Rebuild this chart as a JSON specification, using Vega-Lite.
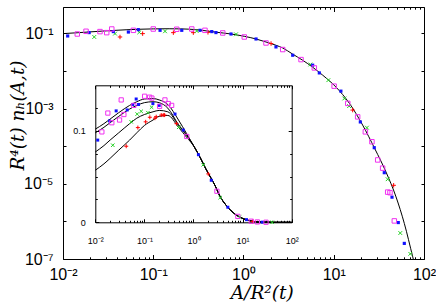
{
"$schema": "https://vega.github.io/schema/vega-lite/v6.json",
"width": 361, "height": 252,
"autosize": {"type": "none"},
"padding": {"left": 63, "top": 7, "right": 12, "bottom": 47},
"background": "white",
"config": {
  "view": {"stroke": null},
  "axis": {"grid": false, "domainColor": "#000", "tickColor": "#000", "labelColor": "#000", "titleColor": "#000", "labelFont": "Liberation Sans", "domainWidth": 1, "tickWidth": 1, "labelFlush": false, "labelOverlap": false, "labelBound": false}
},
"datasets": {
  "mc": [
    {"x":0.01,"y":0.098},{"x":0.015,"y":0.104},{"x":0.02,"y":0.109},{"x":0.03,"y":0.116},{"x":0.05,"y":0.124},{"x":0.07,"y":0.128},{"x":0.1,"y":0.131},{"x":0.15,"y":0.132},{"x":0.2,"y":0.131},{"x":0.3,"y":0.125},{"x":0.495,"y":0.107},{"x":0.727,"y":0.0958},{"x":1.02,"y":0.0832},{"x":1.377,"y":0.0706},{"x":1.776,"y":0.0587},{"x":2.29,"y":0.0481},{"x":2.72,"y":0.0407},{"x":3.5,"y":0.028},{"x":4.53,"y":0.0192},{"x":7.55,"y":0.00769},{"x":10.6,"y":0.0037},{"x":14.86,"y":0.00139},{"x":20.9,"y":0.000363},{"x":28.6,"y":0.000084},{"x":37.9,"y":0.0000206},{"x":49,"y":0.00000447},{"x":60.5,"y":0.000000885},{"x":75,"y":0.000000114},{"x":81.5,"y":0.000000051}
  ],
  "mp": [
    {"x":0.01127,"y":0.0848,"s":"b"},{"x":0.0195,"y":0.1044,"s":"b"},{"x":0.0361,"y":0.111,"s":"b"},{"x":0.053,"y":0.108,"s":"b"},{"x":0.0683,"y":0.125,"s":"b"},{"x":0.119,"y":0.12,"s":"b"},{"x":0.207,"y":0.12,"s":"b"},{"x":0.33,"y":0.12,"s":"b"},{"x":0.445,"y":0.111,"s":"b"},{"x":0.495,"y":0.1044,"s":"b"},{"x":0.727,"y":0.0958,"s":"b"},{"x":1.377,"y":0.0706,"s":"b"},{"x":2.29,"y":0.0434,"s":"b"},{"x":3.51,"y":0.0261,"s":"b"},{"x":5.84,"y":0.0142,"s":"b"},{"x":6.92,"y":0.00885,"s":"b"},{"x":12.0,"y":0.0029,"s":"b"},{"x":19.7,"y":0.00044,"s":"b"},{"x":28.1,"y":0.000091,"s":"b"},{"x":36.3,"y":0.0000197,"s":"b"},{"x":44.2,"y":0.0000044,"s":"b"},{"x":51.9,"y":0.00000093,"s":"b"},{"x":60.5,"y":0.00000026,"s":"b"},
    {"x":0.0144,"y":0.0958,"s":"m"},{"x":0.018,"y":0.113,"s":"m"},{"x":0.0257,"y":0.111,"s":"m"},{"x":0.0305,"y":0.104,"s":"m"},{"x":0.0347,"y":0.13,"s":"m"},{"x":0.0602,"y":0.12,"s":"m"},{"x":0.1,"y":0.13,"s":"m"},{"x":0.182,"y":0.128,"s":"m"},{"x":0.267,"y":0.13,"s":"m"},{"x":0.374,"y":0.12,"s":"m"},{"x":0.589,"y":0.102,"s":"m"},{"x":1.02,"y":0.0798,"s":"m"},{"x":1.776,"y":0.0553,"s":"m"},{"x":2.72,"y":0.037,"s":"m"},{"x":4.34,"y":0.02,"s":"m"},{"x":6.09,"y":0.012,"s":"m"},{"x":10.1,"y":0.00393,"s":"m"},{"x":14.3,"y":0.00137,"s":"m"},{"x":18.4,"y":0.0006,"s":"m"},{"x":22.4,"y":0.00024,"s":"m"},{"x":26.5,"y":0.000131,"s":"m"},{"x":30.7,"y":0.000043,"s":"m"},{"x":34.8,"y":0.000026,"s":"m"},{"x":39.6,"y":0.000006,"s":"m"},{"x":42.0,"y":0.0000058,"s":"m"},{"x":46.9,"y":0.00000103,"s":"m"},
    {"x":0.0222,"y":0.0798,"s":"g"},{"x":0.0377,"y":0.098,"s":"g"},{"x":0.07,"y":0.106,"s":"g"},{"x":0.135,"y":0.113,"s":"g"},{"x":0.303,"y":0.115,"s":"g"},{"x":0.826,"y":0.094,"s":"g"},{"x":5.5,"y":0.0148,"s":"g"},{"x":8.71,"y":0.00567,"s":"g"},{"x":13.1,"y":0.00185,"s":"g"},{"x":14.8,"y":0.00116,"s":"g"},{"x":23.3,"y":0.00031,"s":"g"},{"x":39.6,"y":0.0000132,"s":"g"},{"x":54.6,"y":0.00000049,"s":"g"},{"x":70.5,"y":0.000000137,"s":"g"},
    {"x":0.0428,"y":0.0798,"s":"r"},{"x":0.0763,"y":0.098,"s":"r"},{"x":0.167,"y":0.104,"s":"r"},{"x":0.278,"y":0.104,"s":"r"},{"x":0.404,"y":0.106,"s":"r"},{"x":2.02,"y":0.0533,"s":"r"},{"x":16.2,"y":0.00091,"s":"r"},{"x":46.1,"y":0.0000091,"s":"r"}
  ],
  "ic": [
    {"x":0.01,"y":0.102,"c":1},{"x":0.015,"y":0.108,"c":1},{"x":0.02,"y":0.113,"c":1},{"x":0.03,"y":0.12,"c":1},{"x":0.05,"y":0.128,"c":1},{"x":0.07,"y":0.132,"c":1},{"x":0.1,"y":0.135,"c":1},{"x":0.15,"y":0.1355,"c":1},{"x":0.2,"y":0.134,"c":1},{"x":0.3,"y":0.129,"c":1},{"x":0.495,"y":0.112,"c":1},{"x":0.727,"y":0.097,"c":1},
    {"x":1.02,"y":0.0832,"c":1},{"x":1.377,"y":0.0706,"c":1},{"x":1.776,"y":0.0587,"c":1},{"x":2.29,"y":0.0481,"c":1},{"x":2.72,"y":0.0407,"c":1},{"x":3.5,"y":0.028,"c":1},{"x":4.53,"y":0.0192,"c":1},{"x":7.55,"y":0.00769,"c":1},{"x":10.6,"y":0.0037,"c":1},{"x":14.86,"y":0.00139,"c":1},{"x":20.9,"y":0.000363,"c":1},{"x":49,"y":0.0000045,"c":1},{"x":100,"y":0,"c":1},
    {"x":0.01,"y":0.098,"c":2},{"x":0.015,"y":0.104,"c":2},{"x":0.02,"y":0.109,"c":2},{"x":0.03,"y":0.116,"c":2},{"x":0.05,"y":0.124,"c":2},{"x":0.07,"y":0.128,"c":2},{"x":0.1,"y":0.131,"c":2},{"x":0.15,"y":0.132,"c":2},{"x":0.2,"y":0.131,"c":2},{"x":0.3,"y":0.125,"c":2},{"x":0.495,"y":0.107,"c":2},{"x":0.727,"y":0.0958,"c":2},
    {"x":1.02,"y":0.0832,"c":2},{"x":1.377,"y":0.0706,"c":2},{"x":1.776,"y":0.0587,"c":2},{"x":2.29,"y":0.0481,"c":2},{"x":2.72,"y":0.0407,"c":2},{"x":3.5,"y":0.028,"c":2},{"x":4.53,"y":0.0192,"c":2},{"x":7.55,"y":0.00769,"c":2},{"x":10.6,"y":0.0037,"c":2},{"x":14.86,"y":0.00139,"c":2},{"x":20.9,"y":0.000363,"c":2},{"x":49,"y":0.0000045,"c":2},{"x":100,"y":0,"c":2},
    {"x":0.01,"y":0.077,"c":3},{"x":0.015,"y":0.084,"c":3},{"x":0.02,"y":0.09,"c":3},{"x":0.03,"y":0.098,"c":3},{"x":0.05,"y":0.108,"c":3},{"x":0.07,"y":0.114,"c":3},{"x":0.1,"y":0.118,"c":3},{"x":0.15,"y":0.121,"c":3},{"x":0.2,"y":0.1225,"c":3},{"x":0.3,"y":0.121,"c":3},{"x":0.495,"y":0.106,"c":3},{"x":0.727,"y":0.095,"c":3},
    {"x":1.02,"y":0.0832,"c":3},{"x":1.377,"y":0.0706,"c":3},{"x":1.776,"y":0.0587,"c":3},{"x":2.29,"y":0.0481,"c":3},{"x":2.72,"y":0.0407,"c":3},{"x":3.5,"y":0.028,"c":3},{"x":4.53,"y":0.0192,"c":3},{"x":7.55,"y":0.00769,"c":3},{"x":10.6,"y":0.0037,"c":3},{"x":14.86,"y":0.00139,"c":3},{"x":20.9,"y":0.000363,"c":3},{"x":49,"y":0.0000045,"c":3},{"x":100,"y":0,"c":3},
    {"x":0.01,"y":0.057,"c":4},{"x":0.015,"y":0.064,"c":4},{"x":0.02,"y":0.07,"c":4},{"x":0.03,"y":0.079,"c":4},{"x":0.05,"y":0.09,"c":4},{"x":0.07,"y":0.098,"c":4},{"x":0.1,"y":0.106,"c":4},{"x":0.15,"y":0.112,"c":4},{"x":0.2,"y":0.116,"c":4},{"x":0.3,"y":0.117,"c":4},{"x":0.495,"y":0.104,"c":4},{"x":0.727,"y":0.093,"c":4},
    {"x":1.02,"y":0.0832,"c":4},{"x":1.377,"y":0.0706,"c":4},{"x":1.776,"y":0.0587,"c":4},{"x":2.29,"y":0.0481,"c":4},{"x":2.72,"y":0.0407,"c":4},{"x":3.5,"y":0.028,"c":4},{"x":4.53,"y":0.0192,"c":4},{"x":7.55,"y":0.00769,"c":4},{"x":10.6,"y":0.0037,"c":4},{"x":14.86,"y":0.00139,"c":4},{"x":20.9,"y":0.000363,"c":4},{"x":49,"y":0.0000045,"c":4},{"x":100,"y":0,"c":4}
  ],
  "ip": [
    {"x":0.0136,"y":0.099,"s":"m"},{"x":0.018,"y":0.1196,"s":"m"},{"x":0.0217,"y":0.109,"s":"m"},{"x":0.0312,"y":0.112,"s":"m"},{"x":0.0337,"y":0.134,"s":"m"},{"x":0.0382,"y":0.118,"s":"m"},{"x":0.061,"y":0.128,"s":"m"},{"x":0.101,"y":0.138,"s":"m"},{"x":0.128,"y":0.137,"s":"m"},{"x":0.142,"y":0.136,"s":"m"},{"x":0.204,"y":0.127,"s":"m"},{"x":0.262,"y":0.134,"s":"m"},{"x":0.306,"y":0.13,"s":"m"},{"x":0.359,"y":0.128,"s":"m"},{"x":0.73,"y":0.094,"s":"m"},{"x":3.0,"y":0.034,"s":"m"},{"x":8,"y":0.0065,"s":"m"},{"x":15,"y":0.0012,"s":"m"},{"x":20,"y":0.0004,"s":"m"},{"x":30,"y":0.00007,"s":"m"},
    {"x":0.0112,"y":0.09,"s":"b"},{"x":0.0195,"y":0.111,"s":"b"},{"x":0.0266,"y":0.122,"s":"b"},{"x":0.0446,"y":0.123,"s":"b"},{"x":0.058,"y":0.129,"s":"b"},{"x":0.068,"y":0.135,"s":"b"},{"x":0.076,"y":0.129,"s":"b"},{"x":0.149,"y":0.13,"s":"b"},{"x":0.2,"y":0.128,"s":"b"},{"x":0.42,"y":0.1185,"s":"b"},{"x":0.62,"y":0.101,"s":"b"},{"x":1.26,"y":0.074,"s":"b"},{"x":2.3,"y":0.046,"s":"b"},{"x":5,"y":0.0165,"s":"b"},{"x":12,"y":0.0029,"s":"b"},{"x":25,"y":0.00014,"s":"b"},
    {"x":0.0227,"y":0.0844,"s":"g"},{"x":0.0538,"y":0.11,"s":"g"},{"x":0.0713,"y":0.1185,"s":"g"},{"x":0.086,"y":0.1215,"s":"g"},{"x":0.118,"y":0.12,"s":"g"},{"x":0.14,"y":0.126,"s":"g"},{"x":0.5,"y":0.104,"s":"g"},{"x":1.58,"y":0.063,"s":"g"},{"x":3.5,"y":0.027,"s":"g"},{"x":8.7,"y":0.0057,"s":"g"},{"x":40,"y":0.00001,"s":"g"},
    {"x":0.0426,"y":0.0833,"s":"r"},{"x":0.0736,"y":0.1037,"s":"r"},{"x":0.106,"y":0.11,"s":"r"},{"x":0.129,"y":0.115,"s":"r"},{"x":0.164,"y":0.114,"s":"r"},{"x":0.174,"y":0.1156,"s":"r"},{"x":0.22,"y":0.1174,"s":"r"},{"x":0.242,"y":0.1174,"s":"r"},{"x":0.258,"y":0.1174,"s":"r"},{"x":0.45,"y":0.108,"s":"r"},{"x":2.0,"y":0.053,"s":"r"},{"x":16,"y":0.0009,"s":"r"}
  ]
},
"resolve": {"scale": {"x": "independent", "y": "independent"}, "axis": {"x": "independent", "y": "independent"}},
"layer": [
  {
    "data": {"name": "mc"},
    "mark": {"type": "line", "color": "#000", "strokeWidth": 1, "interpolate": "monotone", "clip": true},
    "encoding": {
      "x": {"field": "x", "type": "quantitative", "scale": {"type": "log", "domain": [0.01, 100], "nice": false},
        "axis": {"orient": "bottom", "values": [0.01, 0.1, 1, 10, 100], "tickSize": -4.5, "labelPadding": 12, "labelFontSize": 16,
          "labelExpr": "round(log(datum.value)/LN10)==-2?'10⁻²':round(log(datum.value)/LN10)==-1?'10⁻¹':round(log(datum.value)/LN10)==0?'10⁰':round(log(datum.value)/LN10)==1?'10¹':'10²'",
          "title": "A/R²(t)", "titleFont": "DejaVu Serif", "titleFontSize": 18.5, "titleFontStyle": "italic", "titleFontWeight": "normal", "titleX": 198.7, "titleY": 39.5, "titleBaseline": "alphabetic", "titleAlign": "center"}},
      "y": {"field": "y", "type": "quantitative", "scale": {"type": "log", "domain": [1e-7, 0.5], "nice": false},
        "axis": {"orient": "left", "values": [1e-7, 1e-6, 1e-5, 1e-4, 1e-3, 1e-2, 0.1], "tickSize": -3, "labelPadding": 13, "labelFontSize": 16,
          "labelExpr": "round(log(datum.value)/LN10)==-1?'10⁻¹':round(log(datum.value)/LN10)==-3?'10⁻³':round(log(datum.value)/LN10)==-5?'10⁻⁵':round(log(datum.value)/LN10)==-7?'10⁻⁷':''",
          "title": "R⁴(t) nₕ(A,t)", "titleFont": "DejaVu Serif", "titleFontSize": 18.5, "titleFontStyle": "italic", "titleFontWeight": "normal", "titleAngle": 270, "titleX": -40, "titleY": 108, "titleBaseline": "alphabetic", "titleAlign": "center"}}
    }
  },
  {
    "data": {"name": "mp"},
    "transform": [{"filter": "datum.s=='r'"}],
    "mark": {"type": "point", "shape": "M-1,0L1,0M0,-1L0,1", "filled": false, "color": "#ff0000", "strokeWidth": 1, "size": 20, "opacity": 1},
    "encoding": {
      "x": {"field": "x", "type": "quantitative", "scale": {"type": "log", "domain": [0.01, 100], "nice": false},
        "axis": {"orient": "top", "values": [0.01, 0.1, 1, 10, 100], "tickSize": -4.5, "labels": false, "title": null}},
      "y": {"field": "y", "type": "quantitative", "scale": {"type": "log", "domain": [1e-7, 0.5], "nice": false},
        "axis": {"orient": "right", "values": [1e-7, 1e-6, 1e-5, 1e-4, 1e-3, 1e-2, 0.1], "tickSize": -3, "labels": false, "title": null}}
    }
  },
  {
    "data": {"name": "mp"},
    "transform": [{"filter": "datum.s=='g'"}],
    "mark": {"type": "point", "shape": "M-1,-1L1,1M-1,1L1,-1", "filled": false, "color": "#20d020", "strokeWidth": 1, "size": 14, "opacity": 1},
    "encoding": {
      "x": {"field": "x", "type": "quantitative", "scale": {"type": "log", "domain": [0.01, 100], "nice": false},
        "axis": {"orient": "bottom", "values": [0.02,0.03,0.04,0.05,0.06,0.07,0.08,0.09,0.2,0.3,0.4,0.5,0.6,0.7,0.8,0.9,2,3,4,5,6,7,8,9,20,30,40,50,60,70,80,90], "tickSize": -2.2, "labels": false, "domain": false, "title": null}},
      "y": {"field": "y", "type": "quantitative", "scale": {"type": "log", "domain": [1e-7, 0.5], "nice": false}, "axis": null}
    }
  },
  {
    "data": {"name": "mp"},
    "transform": [{"filter": "datum.s=='b'"}],
    "mark": {"type": "point", "shape": "square", "filled": true, "color": "#1010ff", "size": 10, "opacity": 1},
    "encoding": {
      "x": {"field": "x", "type": "quantitative", "scale": {"type": "log", "domain": [0.01, 100], "nice": false},
        "axis": {"orient": "top", "values": [0.02,0.03,0.04,0.05,0.06,0.07,0.08,0.09,0.2,0.3,0.4,0.5,0.6,0.7,0.8,0.9,2,3,4,5,6,7,8,9,20,30,40,50,60,70,80,90], "tickSize": -2.2, "labels": false, "domain": false, "title": null}},
      "y": {"field": "y", "type": "quantitative", "scale": {"type": "log", "domain": [1e-7, 0.5], "nice": false}, "axis": null}
    }
  },
  {
    "data": {"name": "mp"},
    "transform": [{"filter": "datum.s=='m'"}],
    "mark": {"type": "point", "shape": "square", "filled": false, "color": "#f030f0", "strokeWidth": 1, "size": 20, "opacity": 1},
    "encoding": {
      "x": {"field": "x", "type": "quantitative", "scale": {"type": "log", "domain": [0.01, 100], "nice": false}, "axis": null},
      "y": {"field": "y", "type": "quantitative", "scale": {"type": "log", "domain": [1e-7, 0.5], "nice": false}, "axis": null}
    }
  },
  {
    "data": {"name": "ic"},
    "mark": {"type": "line", "color": "#000", "strokeWidth": 1, "interpolate": "monotone", "clip": false},
    "encoding": {
      "detail": {"field": "c", "type": "nominal"},
      "x": {"field": "x", "type": "quantitative", "scale": {"type": "log", "domain": [0.01, 100], "range": [32.3, 228.7], "nice": false},
        "axis": {"orient": "bottom", "offset": -36.7, "values": [0.01, 0.1, 1, 10, 100], "tickSize": -3.5, "labelPadding": 18, "labelFontSize": 9,
          "labelExpr": "round(log(datum.value)/LN10)==-2?'10⁻²':round(log(datum.value)/LN10)==-1?'10⁻¹':round(log(datum.value)/LN10)==0?'10⁰':round(log(datum.value)/LN10)==1?'10¹':'10²'", "title": null}},
      "y": {"field": "y", "type": "quantitative", "scale": {"type": "linear", "domain": [0, 0.15], "range": [215.3, 78.3], "nice": false, "zero": false},
        "axis": {"orient": "left", "offset": -32.3, "values": [0, 0.1], "tickSize": -3.5, "labelPadding": 13.5, "labelFontSize": 9, "labelExpr": "datum.value==0?'0':'0.1'", "title": null}}
    }
  },
  {
    "data": {"name": "ip"},
    "transform": [{"filter": "datum.s=='r'"}],
    "mark": {"type": "point", "shape": "M-1,0L1,0M0,-1L0,1", "filled": false, "color": "#ff0000", "strokeWidth": 1, "size": 16, "opacity": 1},
    "encoding": {
      "x": {"field": "x", "type": "quantitative", "scale": {"type": "log", "domain": [0.01, 100], "range": [32.3, 228.7], "nice": false},
        "axis": {"orient": "top", "offset": -78.3, "values": [0.01, 0.1, 1, 10, 100], "tickSize": -3.5, "labels": false, "title": null}},
      "y": {"field": "y", "type": "quantitative", "scale": {"type": "linear", "domain": [0, 0.15], "range": [215.3, 78.3], "nice": false, "zero": false},
        "axis": {"orient": "right", "offset": -132.3, "values": [0, 0.1], "tickSize": -3.5, "labels": false, "title": null}}
    }
  },
  {
    "data": {"name": "ip"},
    "transform": [{"filter": "datum.s=='g'"}],
    "mark": {"type": "point", "shape": "M-1,-1L1,1M-1,1L1,-1", "filled": false, "color": "#20d020", "strokeWidth": 1, "size": 12, "opacity": 1},
    "encoding": {
      "x": {"field": "x", "type": "quantitative", "scale": {"type": "log", "domain": [0.01, 100], "range": [32.3, 228.7], "nice": false},
        "axis": {"orient": "bottom", "offset": -36.7, "values": [0.02,0.03,0.04,0.05,0.06,0.07,0.08,0.09,0.2,0.3,0.4,0.5,0.6,0.7,0.8,0.9,2,3,4,5,6,7,8,9,20,30,40,50,60,70,80,90], "tickSize": -2, "labels": false, "domain": false, "title": null}},
      "y": {"field": "y", "type": "quantitative", "scale": {"type": "linear", "domain": [0, 0.15], "range": [215.3, 78.3], "nice": false, "zero": false},
        "axis": {"orient": "left", "offset": -32.3, "values": [0.025, 0.05, 0.075, 0.125], "tickSize": -2, "labels": false, "domain": false, "title": null}}
    }
  },
  {
    "data": {"name": "ip"},
    "transform": [{"filter": "datum.s=='b'"}],
    "mark": {"type": "point", "shape": "square", "filled": true, "color": "#1010ff", "size": 9, "opacity": 1},
    "encoding": {
      "x": {"field": "x", "type": "quantitative", "scale": {"type": "log", "domain": [0.01, 100], "range": [32.3, 228.7], "nice": false},
        "axis": {"orient": "top", "offset": -78.3, "values": [0.02,0.03,0.04,0.05,0.06,0.07,0.08,0.09,0.2,0.3,0.4,0.5,0.6,0.7,0.8,0.9,2,3,4,5,6,7,8,9,20,30,40,50,60,70,80,90], "tickSize": -2, "labels": false, "domain": false, "title": null}},
      "y": {"field": "y", "type": "quantitative", "scale": {"type": "linear", "domain": [0, 0.15], "range": [215.3, 78.3], "nice": false, "zero": false},
        "axis": {"orient": "right", "offset": -132.3, "values": [0.025, 0.05, 0.075, 0.125], "tickSize": -2, "labels": false, "domain": false, "title": null}}
    }
  },
  {
    "data": {"name": "ip"},
    "transform": [{"filter": "datum.s=='m'"}],
    "mark": {"type": "point", "shape": "square", "filled": false, "color": "#f030f0", "strokeWidth": 1, "size": 18, "opacity": 1},
    "encoding": {
      "x": {"field": "x", "type": "quantitative", "scale": {"type": "log", "domain": [0.01, 100], "range": [32.3, 228.7], "nice": false}, "axis": null},
      "y": {"field": "y", "type": "quantitative", "scale": {"type": "linear", "domain": [0, 0.15], "range": [215.3, 78.3], "nice": false, "zero": false}, "axis": null}
    }
  }
]
}
